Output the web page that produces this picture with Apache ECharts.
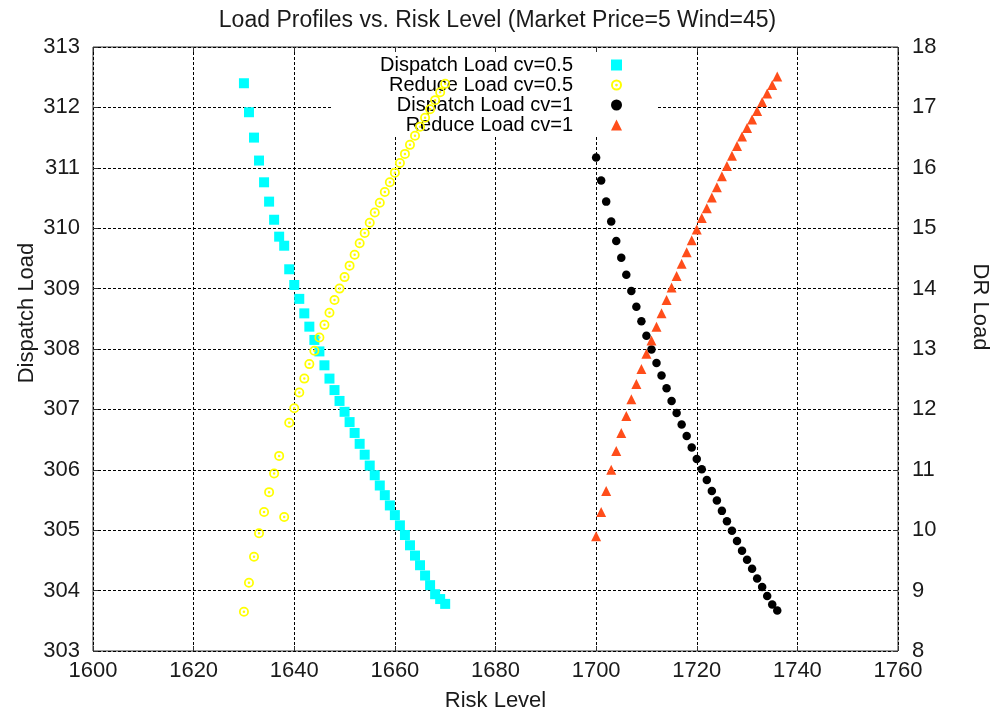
<!DOCTYPE html>
<html><head><meta charset="utf-8">
<script src="https://cdn.jsdelivr.net/npm/echarts@6/dist/echarts.min.js"></script>
<style>html,body{margin:0;padding:0;background:#fff}#c{width:995px;height:715px}</style>
</head><body><div id="c"></div>
<script>
const FONT = '"Liberation Sans", Arial, Helvetica, sans-serif';
const titleText = 'Load Profiles vs. Risk Level (Market Price=5 Wind=45)';
const xName = 'Risk Level';
const yLeftName = 'Dispatch Load';
const yRightName = 'DR Load';
const seriesNames = ['Dispatch Load cv=0.5', 'Reduce Load cv=0.5', 'Dispatch Load cv=1', 'Reduce Load cv=1'];

// axis ranges (tick labels every step)
const xMin = 1600, xMax = 1760, xStep = 20;
const yLeftMin = 303, yLeftMax = 313, yLeftStep = 1;
const yRightMin = 8, yRightMax = 18, yRightStep = 1;

// risk levels
const riskCv05 = [1630,1631,1632,1633,1634,1635,1636,1637,1638,1639,1640,1641,1642,1643,1644,1645,1646,1647,1648,1649,1650,1651,1652,1653,1654,1655,1656,1657,1658,1659,1660,1661,1662,1663,1664,1665,1666,1667,1668,1669,1670];
const riskCv1 = [1700,1701,1702,1703,1704,1705,1706,1707,1708,1709,1710,1711,1712,1713,1714,1715,1716,1717,1718,1719,1720,1721,1722,1723,1724,1725,1726,1727,1728,1729,1730,1731,1732,1733,1734,1735,1736];

// Dispatch Load cv=0.5 (left axis)
const dispatchCv05 = [312.40,311.92,311.50,311.12,310.76,310.44,310.14,309.86,309.71,309.32,309.06,308.83,308.59,308.37,308.15,307.96,307.73,307.51,307.32,307.14,306.96,306.79,306.61,306.43,306.25,306.07,305.91,305.74,305.58,305.41,305.25,305.08,304.92,304.75,304.58,304.42,304.25,304.09,303.94,303.86,303.78];
// Reduce Load cv=0.5 (right axis)
const reduceCv05 = [8.65,9.13,9.56,9.95,10.30,10.63,10.94,11.23,10.22,11.78,12.02,12.28,12.51,12.75,12.97,13.19,13.40,13.60,13.81,14.00,14.19,14.38,14.56,14.75,14.92,15.09,15.26,15.42,15.60,15.76,15.92,16.08,16.23,16.38,16.53,16.68,16.83,16.97,17.12,17.25,17.39];
// Dispatch Load cv=1 (left axis)
const dispatchCv1 = [311.17,310.79,310.44,310.11,309.79,309.51,309.23,308.96,308.70,308.46,308.22,307.99,307.77,307.56,307.35,307.14,306.94,306.75,306.56,306.37,306.18,306.01,305.83,305.65,305.49,305.32,305.15,304.99,304.82,304.66,304.51,304.36,304.20,304.06,303.91,303.77,303.67];
// Reduce Load cv=1 (right axis)
const reduceCv1 = [9.90,10.30,10.65,11.00,11.31,11.61,11.89,12.17,12.42,12.67,12.92,13.14,13.37,13.59,13.81,14.02,14.21,14.41,14.60,14.80,14.98,15.17,15.33,15.51,15.68,15.86,16.03,16.20,16.36,16.52,16.66,16.80,16.94,17.09,17.23,17.37,17.51];

const ringPath = 'path://M0,-10A10,10,0,1,1,0,10A10,10,0,1,1,0,-10ZM0,-6.5A6.5,6.5,0,1,0,0,6.5A6.5,6.5,0,1,0,0,-6.5ZM0,-2.5A2.5,2.5,0,1,1,0,2.5A2.5,2.5,0,1,1,0,-2.5Z';

function pairs(xs, ys) { return xs.map((x, i) => [x, ys[i]]); }

const chart = echarts.init(document.getElementById('c'), null, {renderer: 'canvas'});
const gridLine = {show: true, lineStyle: {color: '#000', width: 1, type: [3, 2]}};
const tick = {show: true, inside: true, length: 5, lineStyle: {color: '#333', width: 1}};
const labelStyle = {fontFamily: FONT, fontSize: 22, color: '#1a1a1a'};
const plain = v => String(v);

chart.setOption({
  animation: false,
  backgroundColor: '#fff',
  title: {
    text: titleText, left: 'center', top: 4,
    textStyle: {fontFamily: FONT, fontSize: 23, fontWeight: 'normal', color: '#1a1a1a'}
  },
  grid: {left: 93, right: 97, top: 47, bottom: 64, show: true, borderColor: '#333', borderWidth: 1, containLabel: false, outerBoundsMode: 'none'},
  legend: {
    orient: 'vertical', left: 332, top: 52, align: 'right',
    itemWidth: 11, itemHeight: 11, itemGap: 0,
    padding: [3, 36, 0, 1],
    backgroundColor: '#fff', z: 1, selectedMode: false,
    data: seriesNames,
    formatter: n => '{t|' + n + '}{s| }',
    textStyle: {
      fontFamily: FONT, fontSize: 20, color: '#000',
      rich: {
        t: {width: 240, align: 'right', fontFamily: FONT, fontSize: 20, lineHeight: 20.8, color: '#000'},
        s: {width: 33, fontSize: 20, lineHeight: 20.8}
      }
    }
  },
  xAxis: [{
    type: 'value', position: 'bottom', min: xMin, max: xMax, interval: xStep,
    name: xName, nameLocation: 'middle', nameGap: 39, nameMoveOverlap: false,
    nameTextStyle: labelStyle,
    axisLine: {show: false}, axisTick: tick, splitLine: gridLine,
    axisLabel: Object.assign({margin: 9, formatter: plain, showMinLabel: true, showMaxLabel: true, hideOverlap: false}, labelStyle)
  }, {
    type: 'value', position: 'top', min: xMin, max: xMax, interval: xStep,
    axisLine: {show: false}, axisTick: tick, splitLine: {show: false}, axisLabel: {show: false}
  }],
  yAxis: [{
    type: 'value', position: 'left', min: yLeftMin, max: yLeftMax, interval: yLeftStep,
    name: yLeftName, nameLocation: 'middle', nameGap: 55, nameRotate: 90, nameMoveOverlap: false,
    nameTextStyle: Object.assign({padding: [0, 0, 0, 72]}, labelStyle),
    axisLine: {show: false}, axisTick: tick, splitLine: gridLine,
    axisLabel: Object.assign({margin: 13, formatter: plain, showMinLabel: true, showMaxLabel: true, hideOverlap: false}, labelStyle)
  }, {
    type: 'value', position: 'right', min: yRightMin, max: yRightMax, interval: yRightStep,
    name: yRightName, nameLocation: 'middle', nameGap: 71, nameRotate: -90, nameMoveOverlap: false,
    nameTextStyle: Object.assign({padding: [0, 84, 0, 0]}, labelStyle),
    axisLine: {show: false}, axisTick: tick, splitLine: {show: false},
    axisLabel: Object.assign({margin: 14, formatter: plain, showMinLabel: true, showMaxLabel: true, hideOverlap: false}, labelStyle)
  }],
  series: [{
    name: seriesNames[0], type: 'scatter', xAxisIndex: 0, yAxisIndex: 0, z: 3,
    symbol: 'rect', symbolSize: 10, itemStyle: {color: '#00ffff', opacity: 1},
    data: pairs(riskCv05, dispatchCv05)
  }, {
    name: seriesNames[1], type: 'scatter', xAxisIndex: 0, yAxisIndex: 1, z: 3,
    symbol: ringPath, symbolSize: 10, itemStyle: {color: '#ffff00', opacity: 1},
    data: pairs(riskCv05, reduceCv05)
  }, {
    name: seriesNames[2], type: 'scatter', xAxisIndex: 0, yAxisIndex: 0, z: 3,
    symbol: 'circle', symbolSize: 8.5, itemStyle: {color: '#000000', opacity: 1},
    data: pairs(riskCv1, dispatchCv1)
  }, {
    name: seriesNames[3], type: 'scatter', xAxisIndex: 0, yAxisIndex: 1, z: 3,
    symbol: 'triangle', symbolSize: 10, itemStyle: {color: '#ff4d1a', opacity: 1},
    data: pairs(riskCv1, reduceCv1)
  }]
});
</script>
</body></html>
